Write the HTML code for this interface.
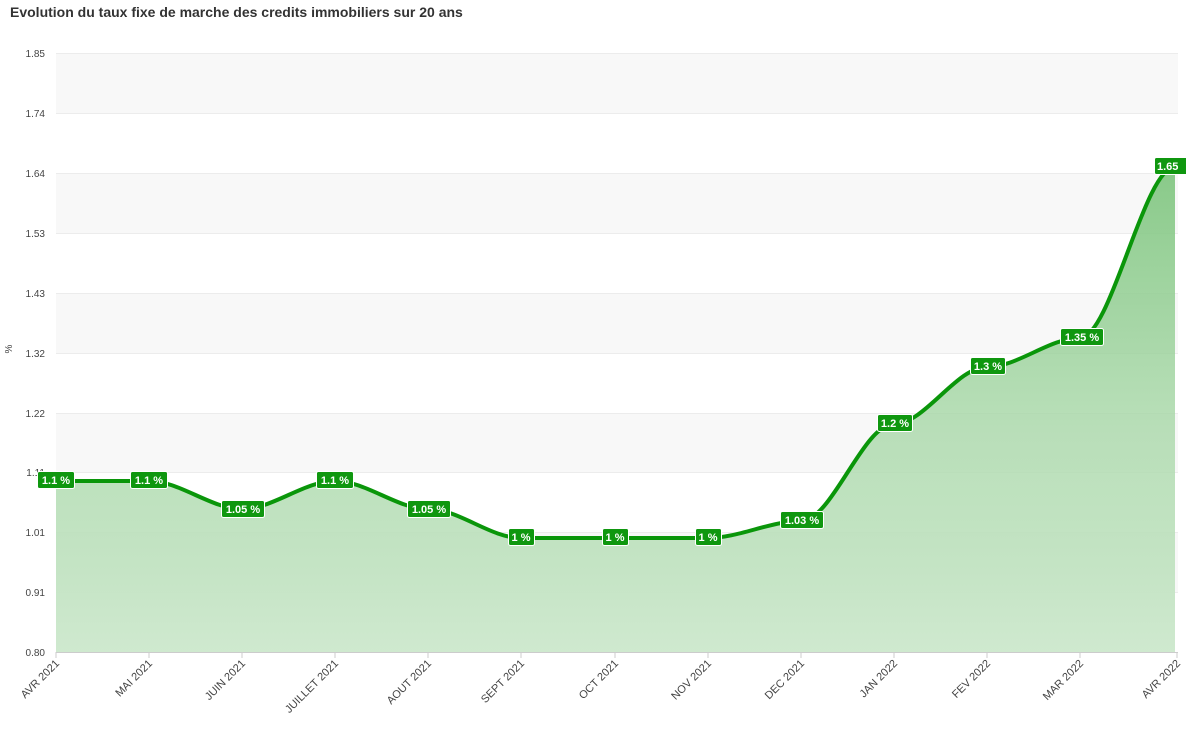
<!DOCTYPE html>
<html><head><meta charset="utf-8"><style>
body{margin:0;background:#fff;width:1186px;height:736px;overflow:hidden;font-family:"Liberation Sans",sans-serif}
</style></head><body>
<svg width="1186" height="736" xmlns="http://www.w3.org/2000/svg" font-family="Liberation Sans, sans-serif">
<defs>
<linearGradient id="g" x1="0" y1="0" x2="0" y2="1">
<stop offset="0" stop-color="#7cc47c" stop-opacity="0.9"/>
<stop offset="0.55" stop-color="#a9d8a9" stop-opacity="0.8"/>
<stop offset="1" stop-color="#cfe9cf"/>
</linearGradient>
</defs>
<text x="10" y="17" font-size="14" font-weight="bold" fill="#333">Evolution du taux fixe de marche des credits immobiliers sur 20 ans</text>
<g fill="#f8f8f8">
<rect x="56" y="53" width="1122" height="60"/>
<rect x="56" y="173" width="1122" height="60"/>
<rect x="56" y="293" width="1122" height="60"/>
<rect x="56" y="413" width="1122" height="59"/>
<rect x="56" y="532" width="1122" height="60"/>
</g>
<g stroke="#ececec" stroke-width="1">
<line x1="56" x2="1178" y1="53.5" y2="53.5"/><line x1="56" x2="1178" y1="113.5" y2="113.5"/>
<line x1="56" x2="1178" y1="173.5" y2="173.5"/><line x1="56" x2="1178" y1="233.5" y2="233.5"/>
<line x1="56" x2="1178" y1="293.5" y2="293.5"/><line x1="56" x2="1178" y1="353.5" y2="353.5"/>
<line x1="56" x2="1178" y1="413.5" y2="413.5"/><line x1="56" x2="1178" y1="472.5" y2="472.5"/>
<line x1="56" x2="1178" y1="532.5" y2="532.5"/><line x1="56" x2="1178" y1="592.5" y2="592.5"/>
</g>
<g font-size="10" fill="#444" text-anchor="end">
<text x="45" y="57">1.85</text><text x="45" y="117">1.74</text><text x="45" y="177">1.64</text>
<text x="45" y="237">1.53</text><text x="45" y="297">1.43</text><text x="45" y="357">1.32</text>
<text x="45" y="417">1.22</text><text x="45" y="476">1.11</text><text x="45" y="536">1.01</text>
<text x="45" y="596">0.91</text><text x="45" y="656">0.80</text>
</g>
<text transform="translate(12,349) rotate(-90)" font-size="10" fill="#444" text-anchor="middle">%</text>
<path d="M56,481 C87,481 118,481 149,481 C180,481 211,509 242,509 C273,509 304,481 335,481 C366,481 397,509 428,509 C459,509 490,538 521,538 C552,538 583,538 615,538 C646,538 677,538 708,538 C739,538 770,521 801,521 C832,521 863,424 894,424 C925,424 956,367 987,367 C1018,367 1049,338 1080,338 C1111,338 1144,167 1175,167 L1175,652 L56,652 Z" fill="url(#g)"/>
<path d="M56,481 C87,481 118,481 149,481 C180,481 211,509 242,509 C273,509 304,481 335,481 C366,481 397,509 428,509 C459,509 490,538 521,538 C552,538 583,538 615,538 C646,538 677,538 708,538 C739,538 770,521 801,521 C832,521 863,424 894,424 C925,424 956,367 987,367 C1018,367 1049,338 1080,338 C1111,338 1144,167 1175,167" fill="none" stroke="#0a960a" stroke-width="4"/>
<line x1="56" x2="1178" y1="652.5" y2="652.5" stroke="#ccc"/>
<g stroke="#ccc">
<line x1="56" x2="56" y1="652" y2="658"/><line x1="149" x2="149" y1="652" y2="658"/><line x1="242" x2="242" y1="652" y2="658"/><line x1="335" x2="335" y1="652" y2="658"/><line x1="428" x2="428" y1="652" y2="658"/><line x1="521" x2="521" y1="652" y2="658"/><line x1="615" x2="615" y1="652" y2="658"/><line x1="708" x2="708" y1="652" y2="658"/><line x1="801" x2="801" y1="652" y2="658"/><line x1="894" x2="894" y1="652" y2="658"/><line x1="987" x2="987" y1="652" y2="658"/><line x1="1080" x2="1080" y1="652" y2="658"/><line x1="1177" x2="1177" y1="652" y2="658"/>
</g>
<g font-size="11" fill="#444" text-anchor="end">
<text transform="translate(60,664) rotate(-45)">AVR 2021</text>
<text transform="translate(153,664) rotate(-45)">MAI 2021</text>
<text transform="translate(246,664) rotate(-45)">JUIN 2021</text>
<text transform="translate(339,664) rotate(-45)">JUILLET 2021</text>
<text transform="translate(432,664) rotate(-45)">AOUT 2021</text>
<text transform="translate(525,664) rotate(-45)">SEPT 2021</text>
<text transform="translate(619,664) rotate(-45)">OCT 2021</text>
<text transform="translate(712,664) rotate(-45)">NOV 2021</text>
<text transform="translate(805,664) rotate(-45)">DEC 2021</text>
<text transform="translate(898,664) rotate(-45)">JAN 2022</text>
<text transform="translate(991,664) rotate(-45)">FEV 2022</text>
<text transform="translate(1084,664) rotate(-45)">MAR 2022</text>
<text transform="translate(1181,664) rotate(-45)">AVR 2022</text>
</g>
<g font-size="11" font-weight="bold" fill="#fff" text-anchor="middle">
<g stroke="#fff" stroke-width="1" fill="#0f970f">
<rect x="37.5" y="471.5" width="37" height="17" rx="2"/>
<rect x="130.5" y="471.5" width="37" height="17" rx="2"/>
<rect x="221.5" y="500.5" width="43" height="17" rx="2"/>
<rect x="316.5" y="471.5" width="37" height="17" rx="2"/>
<rect x="407.5" y="500.5" width="43" height="17" rx="2"/>
<rect x="508.5" y="528.5" width="26" height="17" rx="2"/>
<rect x="602.5" y="528.5" width="26" height="17" rx="2"/>
<rect x="695.5" y="528.5" width="26" height="17" rx="2"/>
<rect x="780.5" y="511.5" width="43" height="17" rx="2"/>
<rect x="877.5" y="414.5" width="35" height="17" rx="2"/>
<rect x="970.5" y="357.5" width="35" height="17" rx="2"/>
<rect x="1060.5" y="328.5" width="43" height="17" rx="2"/>
<rect x="1154.5" y="157.5" width="40" height="17" rx="2"/>
</g>
<text x="56" y="484">1.1 %</text><text x="149" y="484">1.1 %</text><text x="243" y="513">1.05 %</text>
<text x="335" y="484">1.1 %</text><text x="429" y="513">1.05 %</text><text x="521" y="541">1 %</text>
<text x="615" y="541">1 %</text><text x="708" y="541">1 %</text><text x="802" y="524">1.03 %</text>
<text x="895" y="427">1.2 %</text><text x="988" y="370">1.3 %</text><text x="1082" y="341">1.35 %</text>
<text x="1157" y="170" text-anchor="start">1.65</text>
</g>
</svg>
</body></html>
